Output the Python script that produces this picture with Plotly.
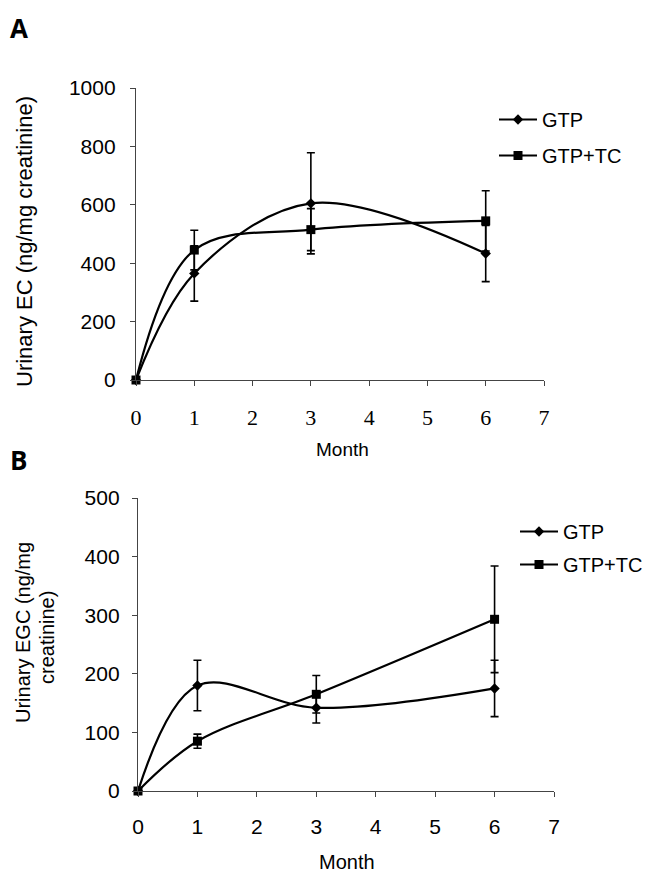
import plotly.graph_objects as go

# page is offset by the 8px default body margin, so the figure is 8px smaller
OFF = 8
W, H = 653 - OFF, 876 - OFF

months = [0, 1, 3, 6]
x_ticks = [0, 1, 2, 3, 4, 5, 6, 7]

ec_gtp = [0, 365, 605, 433]
ec_gtp_err = [0, 95, 173, 96]
ec_tc = [0, 445, 515, 545]
ec_tc_err = [0, 68, 72, 103]
ec_ticks = [0, 200, 400, 600, 800, 1000]

egc_gtp = [0, 180, 142, 175]
egc_gtp_err = [0, 43, 26, 48]
egc_tc = [0, 85, 165, 293]
egc_tc_err = [0, 12, 32, 91]
egc_ticks = [0, 100, 200, 300, 400, 500]

series_names = ["GTP", "GTP+TC"]

SANS = "Liberation Sans, Arial, sans-serif"
SERIF = "Liberation Serif, Times New Roman, serif"
AX = "#444444"


def px_x(p):
    return (p - OFF) / W


def px_y(p):
    return 1 - (p - OFF) / H


fig = go.Figure()


def add_series(x, y, err, name, symbol, size, xa, ya, legend):
    fig.add_trace(go.Scatter(
        x=x, y=y, name=name, xaxis=xa, yaxis=ya, legend=legend,
        legendgroup=legend + name,
        mode="lines+markers",
        line=dict(color="black", width=2.2, shape="spline", smoothing=1.0),
        marker=dict(symbol=symbol, size=size, color="black"),
        error_y=dict(type="data", array=err, visible=True, color="black",
                     thickness=1.6, width=4),
        cliponaxis=False,
    ))


add_series(months, ec_gtp, ec_gtp_err, series_names[0], "diamond", 8, "x", "y", "legend")
add_series(months, ec_tc, ec_tc_err, series_names[1], "square", 9, "x", "y", "legend")
add_series(months, egc_gtp, egc_gtp_err, series_names[0], "diamond", 8, "x2", "y2", "legend2")
add_series(months, egc_tc, egc_tc_err, series_names[1], "square", 9, "x2", "y2", "legend2")

axis_common = dict(showline=True, linecolor=AX, linewidth=1.4, ticks="outside",
                   tickcolor=AX, tickwidth=1.4, ticklen=5, showgrid=False,
                   zeroline=False, mirror=False, automargin=False)

fig.update_layout(
    width=W, height=H,
    margin=dict(l=0, r=0, t=0, b=0, autoexpand=False),
    paper_bgcolor="white", plot_bgcolor="white",
    font=dict(family=SANS, color="black"),
    xaxis=dict(domain=[px_x(136), px_x(544)], anchor="y", range=[0, 7],
               tickvals=x_ticks, tickfont=dict(family=SERIF, size=22),
               ticklabelstandoff=12, **axis_common),
    yaxis=dict(domain=[px_y(380), px_y(88)], anchor="x", range=[0, 1000],
               tickvals=ec_ticks, tickfont=dict(size=21),
               ticklabelstandoff=10, **axis_common),
    xaxis2=dict(domain=[px_x(138), px_x(554)], anchor="y2", range=[0, 7],
                tickvals=x_ticks, tickfont=dict(size=21),
                ticklabelstandoff=12, **axis_common),
    yaxis2=dict(domain=[px_y(791), px_y(498)], anchor="x2", range=[0, 500],
                tickvals=egc_ticks, tickfont=dict(size=21),
                ticklabelstandoff=8, **axis_common),
    legend=dict(x=px_x(494), y=px_y(100), xanchor="left", yanchor="top",
                font=dict(size=20), bgcolor="rgba(0,0,0,0)", itemwidth=38,
                traceorder="grouped", tracegroupgap=7),
    legend2=dict(x=px_x(515), y=px_y(512), xanchor="left", yanchor="top",
                 font=dict(size=20), bgcolor="rgba(0,0,0,0)", itemwidth=38,
                 traceorder="grouped", tracegroupgap=4),
    showlegend=True,
)

annos = [
    dict(text="<b>A</b>", x=px_x(8), y=px_y(8), xanchor="left", yanchor="top",
         font=dict(size=26, family="Open Sans, Arial, sans-serif")),
    dict(text="<b>B</b>", x=px_x(8), y=px_y(440), xanchor="left", yanchor="top",
         font=dict(size=26, family="Open Sans, Arial, sans-serif")),
    dict(text="Urinary EC (ng/mg creatinine)", x=px_x(24), y=px_y(242),
         textangle=-90, xanchor="center", yanchor="middle", font=dict(size=22)),
    dict(text="Urinary EGC (ng/mg", x=px_x(23), y=px_y(633),
         textangle=-90, xanchor="center", yanchor="middle", font=dict(size=20)),
    dict(text="creatinine)", x=px_x(47), y=px_y(638),
         textangle=-90, xanchor="center", yanchor="middle", font=dict(size=20)),
    dict(text="Month", x=px_x(342), y=px_y(450), xanchor="center", yanchor="middle",
         font=dict(size=19)),
    dict(text="Month", x=px_x(347), y=px_y(862), xanchor="center", yanchor="middle",
         font=dict(size=20)),
]
for a in annos:
    fig.add_annotation(xref="paper", yref="paper", showarrow=False, **a)

fig.write_html("out.html")
